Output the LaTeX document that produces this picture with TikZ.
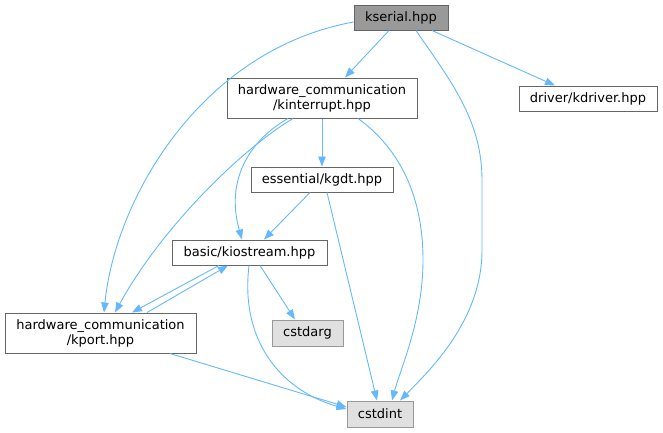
\documentclass[tikz,border=0pt]{standalone}
\usepackage{fontspec}
\setmainfont{DejaVu Sans}
\usetikzlibrary{arrows.meta}
\definecolor{edgeblue}{HTML}{63B8FF}
\definecolor{boxline}{HTML}{666666}
\definecolor{curfill}{HTML}{999999}
\definecolor{extfill}{HTML}{E0E0E0}
\definecolor{extline}{HTML}{999999}
\begin{document}
\begin{tikzpicture}[x=1pt,y=-1pt,
  filebox/.style={draw=boxline,fill=white,line width=1pt,inner sep=0pt,align=center,
    font=\fontsize{13}{15}\selectfont},
  curbox/.style={filebox,fill=curfill},
  extbox/.style={filebox,draw=extline,fill=extfill},
  dep/.style={draw=edgeblue,line width=0.9pt,-{Triangle[length=10pt,width=7.5pt]}}]
\useasboundingbox (0,0) rectangle (663,432);
\node[curbox,minimum width=94pt,minimum height=25pt] (kserial) at (401,17.5) {kserial.hpp};
\node[filebox,minimum width=190pt,minimum height=40pt] (kint) at (322,98) {hardware\_communication\\/kinterrupt.hpp};
\node[filebox,minimum width=138pt,minimum height=25pt] (kdrv) at (588,98.5) {driver/kdriver.hpp};
\node[filebox,minimum width=142pt,minimum height=25pt] (kgdt) at (322,179.5) {essential/kgdt.hpp};
\node[filebox,minimum width=155pt,minimum height=25pt] (kios) at (249.5,252.5) {basic/kiostream.hpp};
\node[filebox,minimum width=191pt,minimum height=40pt] (kport) at (100.5,333) {hardware\_communication\\/kport.hpp};
\node[extbox,minimum width=71pt,minimum height=26pt] (carg) at (307.5,333) {cstdarg};
\node[extbox,minimum width=66pt,minimum height=26pt] (cint) at (380,414) {cstdint};
% kserial edges
\draw[dep] ([xshift=-12pt]kserial.south) -- ([xshift=23pt]kint.north);
\draw[dep] ([xshift=31pt]kserial.south) -- ([xshift=-33pt]kdrv.north);
\draw[dep] ([xshift=15pt]kserial.south) .. controls (450,80) and (482,120) .. (482,180)
  -- (482,250) .. controls (482,320) and (430,370) .. ([xshift=20pt]cint.north);
\draw[dep] ([yshift=-4.5pt]kserial.west) .. controls (200,50) and (115,200) .. ([xshift=3.5pt]kport.north);
% kinterrupt edges
\draw[dep] (kint.south) -- (kgdt.north);
\draw[dep] ([xshift=-34pt]kint.south) .. controls (250,140) and (225,180) .. ([xshift=-7.5pt]kios.north);
\draw[dep] ([xshift=-29pt]kint.south) .. controls (240,150) and (160,230) .. ([xshift=14.5pt]kport.north);
\draw[dep] ([xshift=36pt]kint.south) .. controls (395,145) and (423,190) .. (423,260)
  .. controls (423,320) and (400,370) .. ([xshift=12pt]cint.north);
% kgdt edges
\draw[dep] ([xshift=-12pt]kgdt.south) -- ([xshift=14.5pt]kios.north);
\draw[dep] ([xshift=5pt]kgdt.south) -- ([xshift=-3pt]cint.north);
% kiostream edges
\draw[dep] ([xshift=10.5pt]kios.south) -- ([xshift=-12.5pt]carg.north);
\draw[dep] ([xshift=-30.5pt]kios.south) -- ([xshift=31.5pt]kport.north);
\draw[dep] ([xshift=-0.5pt]kios.south) .. controls (240,340) and (280,390) .. ([yshift=5pt]cint.west);
% kport edges
\draw[dep] ([xshift=46.5pt]kport.north) -- ([xshift=-21.5pt]kios.south);
\draw[dep] ([xshift=69.5pt]kport.south) -- ([yshift=7pt]cint.west);
\end{tikzpicture}
\end{document}
